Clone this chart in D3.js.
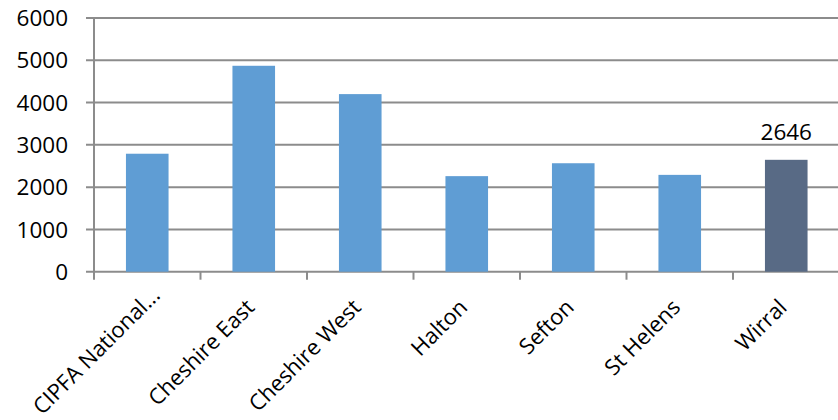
<!DOCTYPE html>
<html>
<head>
<meta charset="utf-8">
<script src="https://cdn.jsdelivr.net/npm/d3@7"></script>
<style>
  html, body { margin: 0; padding: 0; background: #ffffff; }
  svg { display: block; }
  text { font-family: "Open Sans", sans-serif; fill: #000; }
</style>
</head>
<body>
<svg id="chart" width="838" height="420"></svg>
<script>
const categories = ["CIPFA National...", "Cheshire East", "Cheshire West", "Halton", "Sefton", "St Helens", "Wirral"];
const values = [2790, 4870, 4200, 2260, 2565, 2290, 2646];
const highlight = ["Wirral"];
const labelled = ["Wirral"];
const yTicks = [0, 1000, 2000, 3000, 4000, 5000, 6000];

const W = 838, H = 420;
const margin = { left: 94, right: 0, top: 18, bottom: 148 };
const svg = d3.select("#chart");

const x = d3.scaleBand().domain(categories).range([margin.left, 839.5]).paddingInner(0).paddingOuter(0);
const y = d3.scaleLinear().domain([0, 6000]).range([271.7, 18]);

const gridColor = "#8c8c8c";
const fs = "22.5px";

// gridlines
svg.append("g").selectAll("line").data(yTicks).join("line")
  .attr("x1", margin.left - 8).attr("x2", W)
  .attr("y1", d => y(d)).attr("y2", d => y(d))
  .attr("stroke", gridColor).attr("stroke-width", 2);

// y axis line
svg.append("line")
  .attr("x1", margin.left).attr("x2", margin.left)
  .attr("y1", y(6000)).attr("y2", y(0) + 8)
  .attr("stroke", gridColor).attr("stroke-width", 2);

// x category ticks
const boundaries = categories.map(c => x(c)).concat([x(categories[categories.length - 1]) + x.bandwidth()]);
svg.append("g").selectAll("line").data(boundaries.slice(1, -1)).join("line")
  .attr("x1", d => d).attr("x2", d => d)
  .attr("y1", y(0)).attr("y2", y(0) + 8)
  .attr("stroke", gridColor).attr("stroke-width", 2);

// y labels
svg.append("g").selectAll("text").data(yTicks).join("text")
  .attr("x", 68).attr("y", d => y(d))
  .attr("dy", "0.36em")
  .attr("text-anchor", "end")
  .style("font-size", fs)
  .text(d => d);

// bars
const bw = x.bandwidth() * 0.4;
svg.append("g").selectAll("rect").data(categories).join("rect")
  .attr("x", d => x(d) + (x.bandwidth() - bw) / 2)
  .attr("width", bw)
  .attr("y", (d, i) => y(values[i]))
  .attr("height", (d, i) => y(0) - y(values[i]))
  .attr("fill", d => highlight.includes(d) ? "#586a85" : "#5f9dd4");

// value label
svg.append("g").selectAll("text").data(categories.filter(c => labelled.includes(c))).join("text")
  .attr("x", d => x(d) + x.bandwidth() / 2)
  .attr("y", d => y(values[categories.indexOf(d)]) - 20)
  .attr("text-anchor", "middle")
  .style("font-size", fs)
  .text(d => values[categories.indexOf(d)]);

// x labels (baseline end anchored near the category centre)
svg.append("g").selectAll("text").data(categories).join("text")
  .attr("transform", d => {
    const c = x(d) + x.bandwidth() / 2;
    const truncated = d.endsWith("...");
    const px = truncated ? c + 14 : c + 2;
    const py = truncated ? y(0) + 25 : y(0) + 37;
    return `translate(${px},${py}) rotate(-45)`;
  })
  .attr("text-anchor", "end")
  .style("font-size", "22px")
  .text(d => d);
</script>
</body>
</html>
